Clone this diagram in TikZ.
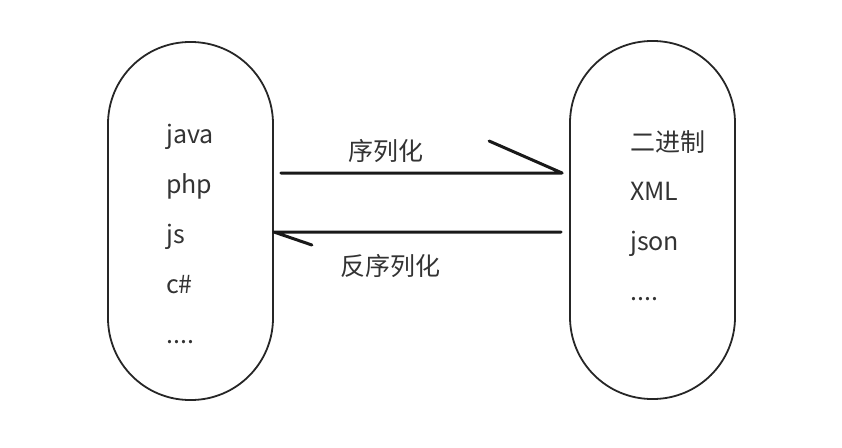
\documentclass[tikz,border=0pt]{standalone}
\usepackage{fontspec}
\setmainfont{Noto Sans CJK SC}
\begin{document}
\begin{tikzpicture}[x=1pt,y=-1pt,
  pill/.style={draw=black!85, line width=1.8pt, minimum width=165pt, minimum height=358pt, rounded corners=82pt, inner sep=0pt},
  item/.style={anchor=base west, inner sep=0pt, font=\fontsize{25}{30}\selectfont, text=black!80},
  lab/.style={anchor=base, inner sep=0pt, font=\fontsize{25}{30}\selectfont, text=black!80},
  conn/.style={line width=3pt, black!90, line cap=round, line join=round}]
\useasboundingbox (0,0) rectangle (842,447);
\node[pill] (L) at (190.5,221) {};
\node[pill] (R) at (652.5,220) {};
\node[item] (l1) at (166,143) {java};
\node[item] (l2) at (166,193) {php};
\node[item] (l3) at (166,243) {js};
\node[item] (l4) at (166,293) {c\#};
\node[item] (l5) at (166,343) {....};
\node[item] (r1) at (630,151) {二进制};
\node[item] (r2) at (630,200) {XML};
\node[item] (r3) at (630,250) {json};
\node[item] (r4) at (630,300) {....};
\coordinate (a1) at ([xshift=7pt]L.east |- 0,173);
\coordinate (a2) at ([xshift=-7pt]R.west |- 0,173);
\coordinate (b1) at (L.east |- 0,232);
\coordinate (b2) at ([xshift=-8pt]R.west |- 0,232);
\draw[conn] (a1) -- (a2) -- ++(-73,-32);
\draw[conn] (b2) -- (b1) -- ++(38,13);
\node[lab] (s) at (386,160) {序列化};
\node[lab] (d) at (390,275) {反序列化};
\end{tikzpicture}
\end{document}
